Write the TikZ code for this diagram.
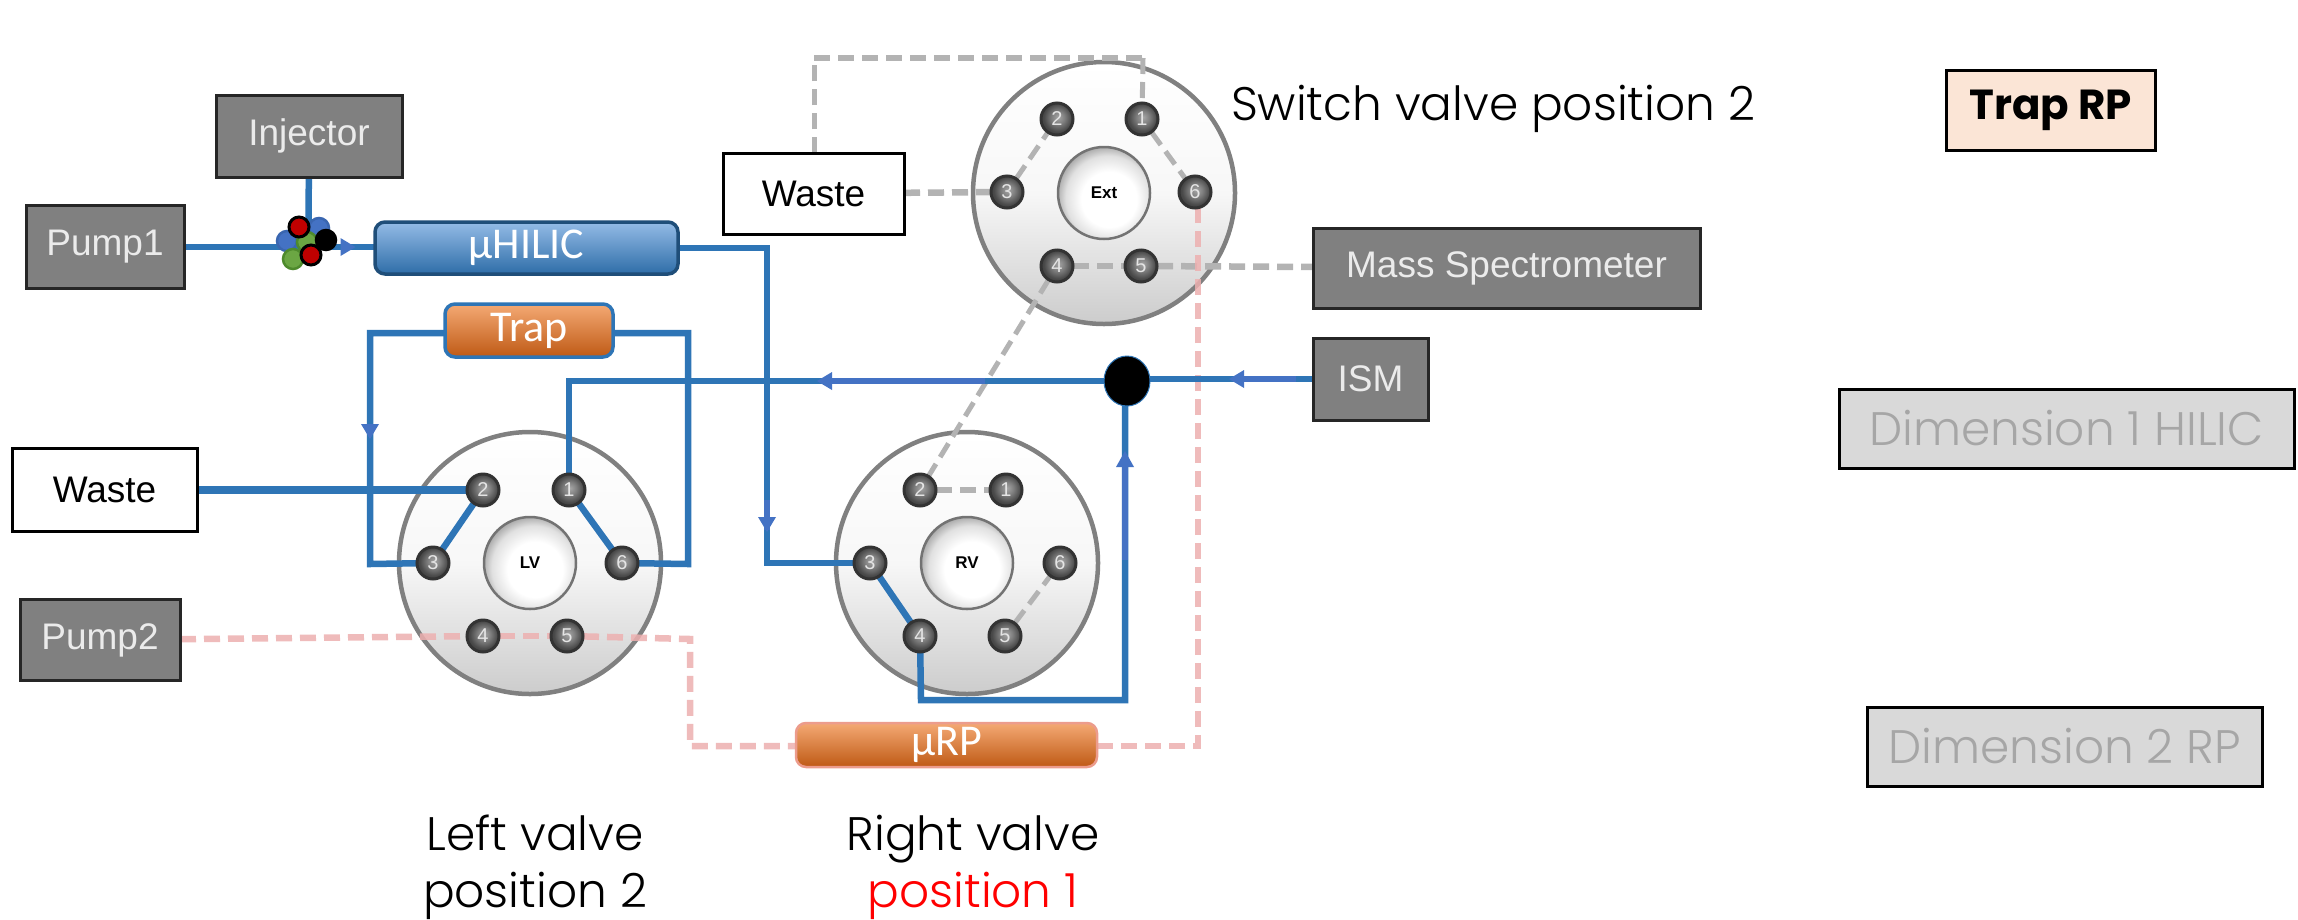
\documentclass[tikz,border=0pt]{standalone}
\usepackage{fontspec}
\setmainfont{Liberation Sans}
\newfontfamily\gothic{Poppins Light}
\newfontfamily\gothicb{Poppins Bold}
\newfontfamily\cali{Carlito}
\usetikzlibrary{shapes.geometric,decorations.markings}
\pgfdeclarelayer{disks}
\pgfdeclarelayer{lines}
\pgfsetlayers{disks,lines,main}
\definecolor{pipeblue}{HTML}{2E75B6}
\definecolor{tipblue}{HTML}{4472C4}
\definecolor{dashgray}{HTML}{B3B3B3}
\definecolor{dashpink}{HTML}{EDB0B0}
\definecolor{hilictop}{HTML}{94BBE6}
\definecolor{hilicbot}{HTML}{2E6DA8}
\definecolor{hilicedge}{HTML}{1F4E79}
\definecolor{orgtop}{HTML}{F4A974}
\definecolor{orgmid}{HTML}{E97E30}
\definecolor{orgbot}{HTML}{BF5A15}
\definecolor{pinkedge}{HTML}{EC9C8C}
\definecolor{greenball}{HTML}{6BA643}
\definecolor{greenedge}{HTML}{4E8A2C}
\definecolor{blueedge}{HTML}{3A66B0}
\definecolor{redball}{HTML}{C00000}
\definecolor{legpeach}{HTML}{FBE5D6}
\pgfdeclareradialshading{hubshade}{\pgfpoint{4bp}{-5bp}}{color(0bp)=(white); color(15bp)=(white); color(23bp)=(black!12); color(28bp)=(black!35); color(50bp)=(black!35)}
\pgfdeclareradialshading{portshade}{\pgfpoint{2bp}{3bp}}{color(0bp)=(black!35); color(10bp)=(black!50); color(22bp)=(black!72); color(50bp)=(black!80)}
\newcommand{\fs}[1]{\fontsize{#1}{#1}\selectfont}
\tikzset{
  x=1pt,y=-1pt,
  every node/.style={inner sep=0pt,outer sep=0pt},
  greybox/.style={draw=black!85,line width=3pt,fill=black!50,text=white!92!black,font=\fs{37}},
  wastebox/.style={draw=black,line width=3pt,fill=white,text=black,font=\fs{37}},
  column/.style={draw,line width=3.5pt,rounded corners=10pt,text=white,font=\cali\fs{44}},
  disk/.style={circle,draw=black!50,line width=4.5pt,top color=white,bottom color=black!20,middle color=white!97!black},
  hub/.style={circle,draw=black!55,line width=2.5pt,shading=hubshade,minimum size=92pt,text=black,font=\bfseries\fs{17}},
  port/.style={circle,draw=black!80,line width=3pt,shading=portshade,minimum size=32pt,text=white!90!black,font=\fs{20}},
  ball/.style={circle,minimum size=20pt,line width=2.5pt},
  pipe/.style={draw=pipeblue,line width=6.5pt,line join=miter},
  tipline/.style={draw=tipblue,line width=6.5pt},
  graydash/.style={draw=dashgray,line width=6.5pt,dash pattern=on 16pt off 8pt},
  graydashthin/.style={draw=dashgray,line width=5pt,dash pattern=on 16pt off 8pt},
  pinkdash/.style={draw=dashpink,line width=6.5pt,dash pattern=on 16pt off 8pt,opacity=.85},
  tipat/.style={postaction={decorate,decoration={markings,mark=at position #1 with {\fill[tipblue] (7.5,0)--(-7.5,9)--(-7.5,-9)--cycle;}}}},
  caption/.style={font=\gothic\fs{47},text=black,anchor=base},
  dimbox/.style={draw=black,line width=3pt,fill=black!15,text=black!35,font=\gothic\fs{47}},
}
\begin{document}
\begin{tikzpicture}
\useasboundingbox (0,0) rectangle (2298,919);

% valve disks
\begin{pgfonlayer}{disks}
\fill[white] (0,0) rectangle (2298,919);
\node[disk,minimum size=262pt] (diskE) at (1104,193) {};
\node[disk,minimum size=262pt] (diskL) at (530,563) {};
\node[disk,minimum size=262pt] (diskR) at (967,563) {};
\end{pgfonlayer}

% hubs
\node[hub] (hubE) at (1104,193) {Ext};
\node[hub] (hubL) at (530,563) {LV};
\node[hub] (hubR) at (967,563) {RV};

% ports
\foreach \n/\x/\y in {1/1142/119,2/1057/119,3/1007/192,4/1057/266,5/1141/266,6/1195/192}
  \node[port] (E\n) at (\x,\y) {\n};
\foreach \n/\x/\y in {1/569/490,2/483/490,3/433/563,4/483/636,5/567/636,6/622/563}
  \node[port] (L\n) at (\x,\y) {\n};
\foreach \n/\x/\y in {1/1006/490,2/920/490,3/870/563,4/920/636,5/1005/636,6/1060/563}
  \node[port] (R\n) at (\x,\y) {\n};

% boxes
\node[greybox,minimum width=186pt,minimum height=82pt] (injector) at (309,136) {Injector};
\node[greybox,minimum width=158pt,minimum height=83pt] (pump1) at (105,247) {Pump1};
\node[greybox,minimum width=160pt,minimum height=81pt] (pump2) at (100,640) {Pump2};
\node[wastebox,minimum width=185pt,minimum height=83pt] (wasteL) at (104.5,490) {Waste};
\node[wastebox,minimum width=181pt,minimum height=81pt] (wasteE) at (813.5,193.5) {Waste};
\node[greybox,minimum width=387pt,minimum height=80pt] (ms) at (1506.5,268) {Mass Spectrometer};
\node[greybox,minimum width=115pt,minimum height=82pt] (ism) at (1370.5,379) {ISM};
\node[column,draw=hilicedge,top color=hilictop,bottom color=hilicbot,minimum width=303pt,minimum height=52pt] (hilic) at (526.5,248) {µHILIC};
\node[column,draw=pipeblue,top color=orgtop,middle color=orgmid,bottom color=orgbot,minimum width=168pt,minimum height=53pt] (trap) at (529,330.5) {Trap};
\node[column,draw=pinkedge,top color=orgtop,middle color=orgmid,bottom color=orgbot,line width=2.5pt,minimum width=301pt,minimum height=44pt] (urp) at (946.5,745) {µRP};

% junction and sample cluster
\node[ellipse,fill=black,draw=pipeblue,line width=1pt,minimum width=46pt,minimum height=50pt] (junction) at (1127,381) {};
\node[ball,fill=tipblue,draw=blueedge] (b1) at (319,228) {};
\node[ball,fill=tipblue,draw=blueedge] (b2) at (287,241) {};
\node[ball,fill=greenball,draw=greenedge] (g1) at (307,242) {};
\node[ball,fill=greenball,draw=greenedge] (g2) at (293,259) {};
\node[ball,fill=redball,draw=black,line width=3pt] (r1) at (299,227) {};
\node[ball,fill=black,draw=black] (bk) at (326,240) {};
\node[ball,fill=redball,draw=black,line width=3pt] (r2) at (311,255) {};

% corners of the tubing
\coordinate (hk1) at (767,248);
\coordinate (hk2) at (767,563);
\coordinate (tl1) at (370,333);
\coordinate (tl2) at (370,564);
\coordinate (tr1) at (688,333);
\coordinate (tr2) at (688,564);
\coordinate (jk1) at (569,381);
\coordinate (rb1) at (921,700);
\coordinate (rb2) at (1125,700);
\coordinate (wt1) at (814,58);
\coordinate (wt2) at (1143,58);
\coordinate (pp1) at (690,639);
\coordinate (pp2) at (690,746);
\coordinate (pe1) at (1198,746);
\coordinate (g1k) at (308.5,240);
\coordinate (ov1) at (1125,462);
\coordinate (ov2) at (1125,560);
\coordinate (ov3) at (825,381);
\coordinate (ov4) at (985,381);
\coordinate (ov5) at (767,500);
\coordinate (ov6) at (767,530);
\coordinate (ov7) at (1236,379);
\coordinate (ov8) at (1296,379);

\begin{pgfonlayer}{lines}
% grey dashed (inactive)
\draw[graydashthin] (wasteE.north -| wt1) -- (wt1);
\draw[graydash] (wt1) -- (wt2);
\draw[graydashthin] (wt2) -- (E1);
\draw[graydash] (wasteE) -- (E3);
\draw[graydashthin] (E3) -- (E2);
\draw[graydashthin] (E1) -- (E6);
\draw[graydash] (E4) -- (E5);
\draw[graydash] (E5) -- (ms);
\draw[graydashthin] (E4) -- (R2);
\draw[graydash] (R2) -- (R1);
\draw[graydashthin] (R5) -- (R6);
% pink dashed
\draw[pinkdash] (pump2) -- (L4);
\draw[pinkdash] (L4) -- (L5);
\draw[pinkdash] (L5) -- (pp1) -- (pp2) -- (urp.west |- pp2);
\draw[pinkdash] (urp.east |- pe1) -- (pe1) -- (E6.south -| pe1);
% blue tubing
\draw[pipe,tipat=164pt] (pump1) -- (hilic.west |- pump1);
\draw[pipe] (injector) -- (g1k);
\draw[pipe] (hilic.east |- hk1) -- (hk1) -- (hk2) -- (R3);
\draw[pipe] (trap.west |- tl1) -- (tl1) -- (tl2) -- (L3);
\draw[pipe] (trap.east |- tr1) -- (tr1) -- (tr2) -- (L6);
\draw[pipe,line width=7.5pt] (wasteL) -- (L2);
\draw[pipe] (L2) -- (L3);
\draw[pipe] (L1) -- (L6);
\draw[pipe] (R3) -- (R4);
\draw[pipe] (ism) -- (junction.east |- ism);
\draw[pipe] (junction) -- (jk1) -- (L1);
\draw[pipe] (R4) -- (rb1) -- (rb2) -- (junction.south -| rb2);
% arrow overlays
\draw[tipline] (ov1) -- (ov2);
\draw[tipline] (ov3) -- (ov4);
\fill[tipblue] (817,381)--(832,372)--(832,390)--cycle;
\draw[tipline] (ov5) -- (ov6);
\fill[tipblue] (767,532)--(758,517)--(776,517)--cycle;
\draw[tipline] (ov7) -- (ov8);
\fill[tipblue] (1229,379)--(1244,370)--(1244,388)--cycle;
\fill[tipblue] (370,439)--(361,424)--(379,424)--cycle;
\fill[tipblue] (1125,451)--(1116,467)--(1134,467)--cycle;
\end{pgfonlayer}

% captions
\node[caption] (capsw) at (1493,120) {Switch valve position 2};
\node[caption] (capl1) at (535,850) {Left valve};
\node[caption] (capl2) at (535,907) {position 2};
\node[caption] (capr1) at (973,850) {Right valve};
\node[caption,text=red] (capr2) at (973,907) {position 1};

% legend
\node[draw=black,line width=3pt,fill=legpeach,font=\gothicb\fs{42},minimum width=209pt,minimum height=80pt] (legtrap) at (2050.5,110) {Trap RP};
\node[dimbox,minimum width=455pt,minimum height=79pt] (legd1) at (2066.5,428.5) {Dimension 1 HILIC};
\node[dimbox,minimum width=395pt,minimum height=79pt] (legd2) at (2064.5,746.5) {Dimension 2 RP};
\end{tikzpicture}
\end{document}
